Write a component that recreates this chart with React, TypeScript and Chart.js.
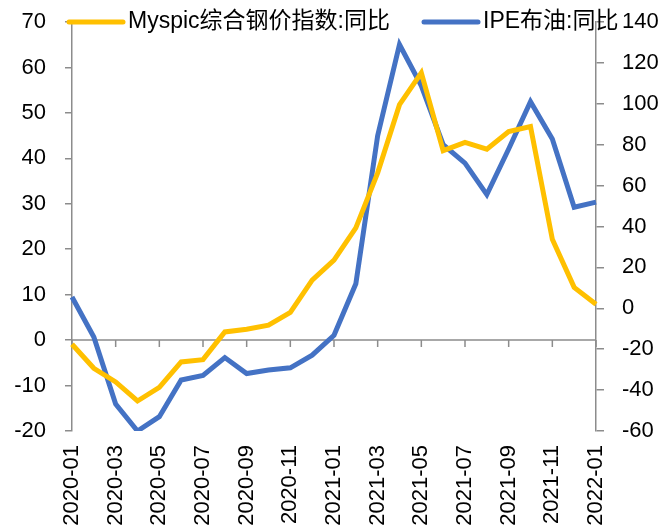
import React, { useEffect, useRef } from 'react';
import { Chart, registerables } from 'chart.js';

Chart.register(...registerables);

const months = [
  '2020-01', '2020-02', '2020-03', '2020-04', '2020-05', '2020-06', '2020-07', '2020-08', '2020-09',
  '2020-10', '2020-11', '2020-12', '2021-01', '2021-02', '2021-03', '2021-04', '2021-05', '2021-06',
  '2021-07', '2021-08', '2021-09', '2021-10', '2021-11', '2021-12', '2022-01',
];

const steelName = 'Myspic综合钢价指数:同比';
const steelYoY = [
  -0.9, -6.2, -9.2, -13.4, -10.4, -4.8, -4.3, 1.8, 2.4, 3.3, 6.1, 13.2, 17.6,
  24.7, 36.8, 51.8, 58.8, 41.7, 43.5, 42.0, 45.9, 47.0, 22.2, 11.6, 7.9,
];

const brentName = 'IPE布油:同比';
const brentYoY = [
  5.5, -14, -46.8, -60, -53, -35.1, -32.8, -24.1, -31.9, -30.2, -29.1, -22.9, -13.2,
  12, 84.4, 129, 108.8, 80, 71, 55.6, 77.9, 101, 82.8, 49.4, 51.9,
];

const leftMin = -20;
const leftMax = 70;
const leftStep = 10;
const rightMin = -60;
const rightMax = 140;
const rightStep = 20;

const YELLOW = '#FFC000';
const BLUE = '#4472C4';
const AXIS = '#8c8c8c';
const TEXT = '#000000';
const FONT = 'Liberation Sans, "Noto Sans CJK SC", sans-serif';
const FONT_SIZE = 22;
const LEGEND_FONT_SIZE = 23;

const zeroAxisPlugin = {
  id: 'zeroAxis',
  beforeDatasetsDraw(chart: any) {
    const { ctx, chartArea, scales } = chart;
    const y = scales.y.getPixelForValue(0);
    ctx.save();
    ctx.strokeStyle = AXIS;
    ctx.lineWidth = 1.5;
    ctx.beginPath();
    ctx.moveTo(chartArea.left, y);
    ctx.lineTo(chartArea.right, y);
    for (let i = 0; i < months.length; i += 2) {
      const x = scales.x.getPixelForValue(i);
      ctx.moveTo(x, y);
      ctx.lineTo(x, y + 7);
    }
    ctx.stroke();
    ctx.restore();
  },
};

const legendPlugin = {
  id: 'customLegend',
  afterDraw(chart: any) {
    const { ctx, chartArea } = chart;
    const y = chartArea.top;
    const items = [
      { name: steelName, color: YELLOW, x: 69 },
      { name: brentName, color: BLUE, x: 424 },
    ];
    ctx.save();
    ctx.font = `${LEGEND_FONT_SIZE}px ${FONT}`;
    ctx.textBaseline = 'middle';
    ctx.textAlign = 'left';
    items.forEach((it) => {
      ctx.strokeStyle = it.color;
      ctx.lineWidth = 5;
      ctx.lineCap = 'round';
      ctx.beginPath();
      ctx.moveTo(it.x, y);
      ctx.lineTo(it.x + 54, y);
      ctx.stroke();
      ctx.fillStyle = TEXT;
      ctx.fillText(it.name, it.x + 59, y);
    });
    ctx.restore();
  },
};

export default function App() {
  const canvasRef = useRef<HTMLCanvasElement | null>(null);

  useEffect(() => {
    document.body.style.margin = '0';
    const canvas = canvasRef.current;
    if (!canvas) return;
    const font = { family: FONT, size: FONT_SIZE };
    const chart = new Chart(canvas, {
      type: 'line',
      data: {
        labels: months,
        datasets: [
          {
            label: steelName,
            data: steelYoY,
            borderColor: YELLOW,
            backgroundColor: YELLOW,
            borderWidth: 5,
            pointRadius: 0,
            tension: 0,
            yAxisID: 'y',
          },
          {
            label: brentName,
            data: brentYoY,
            borderColor: BLUE,
            backgroundColor: BLUE,
            borderWidth: 5,
            pointRadius: 0,
            tension: 0,
            yAxisID: 'y1',
          },
        ],
      },
      options: {
        animation: false,
        responsive: true,
        maintainAspectRatio: false,
        layout: { padding: { top: 22, left: 0, right: 0, bottom: 0 } },
        plugins: {
          legend: { display: false },
          tooltip: { enabled: false },
        },
        scales: {
          x: {
            type: 'category',
            offset: false,
            grid: { display: false, drawTicks: false },
            border: { display: false },
            ticks: {
              autoSkip: false,
              maxRotation: 90,
              minRotation: 90,
              padding: 14,
              color: TEXT,
              font,
              callback: (_v: any, i: number) => (i % 2 === 0 ? months[i] : ''),
            },
            afterFit(s: any) {
              s.height = 97;
              s.paddingLeft = 0;
              s.paddingRight = 0;
            },
          },
          y: {
            position: 'left',
            min: leftMin,
            max: leftMax,
            ticks: { stepSize: leftStep, padding: 19, color: TEXT, font },
            grid: { drawOnChartArea: false, drawTicks: true, tickLength: 7, color: AXIS, lineWidth: 1.5 },
            border: { display: true, color: AXIS, width: 1.5 },
            afterFit(s: any) {
              s.width = 72;
              s.paddingTop = 0;
              s.paddingBottom = 0;
            },
          },
          y1: {
            position: 'right',
            min: rightMin,
            max: rightMax,
            ticks: { stepSize: rightStep, padding: 18, color: TEXT, font },
            grid: { drawOnChartArea: false, drawTicks: true, tickLength: 8, color: AXIS, lineWidth: 1.5 },
            border: { display: true, color: AXIS, width: 1.5 },
            afterFit(s: any) {
              s.width = 75;
              s.paddingTop = 0;
              s.paddingBottom = 0;
            },
          },
        },
      },
      plugins: [zeroAxisPlugin, legendPlugin],
    });
    return () => chart.destroy();
  }, []);

  return (
    <div style={{ position: 'absolute', left: 0, top: 0, width: 671, height: 528, background: '#fff' }}>
      <canvas ref={canvasRef} />
    </div>
  );
}
